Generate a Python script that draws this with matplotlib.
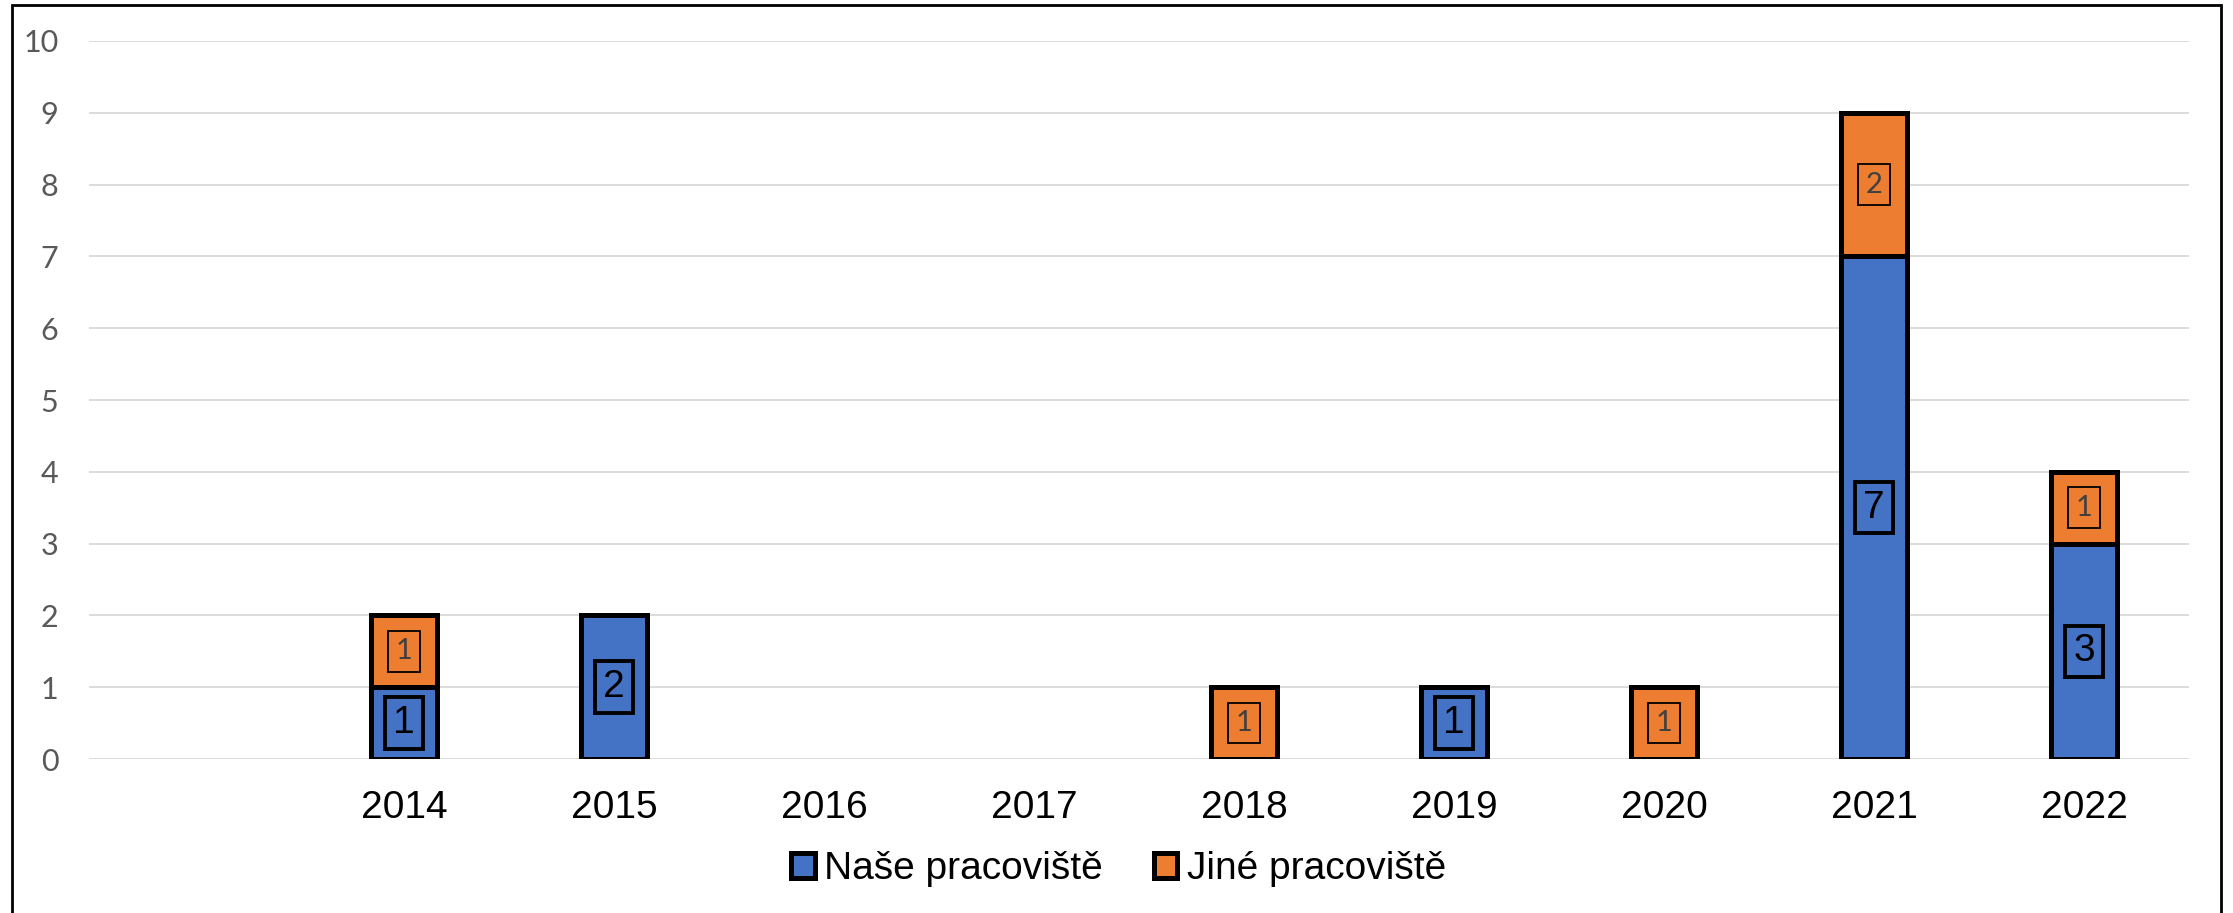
import numpy as np
import matplotlib
matplotlib.use("Agg")
import matplotlib.pyplot as plt
from matplotlib.patches import Rectangle

# first category is an empty slot, as in the original spreadsheet
years = ["", "2014", "2015", "2016", "2017", "2018", "2019", "2020", "2021", "2022"]
nase = [0, 1, 2, 0, 0, 0, 1, 0, 7, 3]
jine = [0, 1, 0, 0, 0, 1, 0, 1, 2, 1]
series_names = ["Naše pracoviště", "Jiné pracoviště"]
y_ticks = [0, 1, 2, 3, 4, 5, 6, 7, 8, 9, 10]

blue = "#4472C4"
orange = "#ED7D31"

fig = plt.figure(figsize=(22.33, 9.13), dpi=100)
ax = fig.add_axes([89 / 2233, 1 - 759 / 913, 2100 / 2233, 718 / 913])

x = np.arange(len(years))
nase = np.array(nase, dtype=float)
jine = np.array(jine, dtype=float)

# skip zero-height segments
h1 = np.where(nase > 0, nase, np.nan)
h2 = np.where(jine > 0, jine, np.nan)

w = 0.31
b1 = ax.bar(x, h1, w, color=blue, edgecolor="black", linewidth=3.6, label=series_names[0], zorder=3)
b2 = ax.bar(x, h2, w, bottom=nase, color=orange, edgecolor="black", linewidth=3.6, label=series_names[1], zorder=3)

# data labels in boxes
for i in range(len(x)):
    if nase[i] > 0:
        ax.text(x[i], nase[i] / 2, str(int(nase[i])), ha="center", va="center",
                fontsize=28, family="Liberation Sans", color="black", zorder=5,
                bbox=dict(boxstyle="square,pad=0.2", facecolor=blue, edgecolor="black", linewidth=2.8))
    if jine[i] > 0:
        ax.text(x[i], nase[i] + jine[i] / 2, str(int(jine[i])), ha="center", va="center",
                fontsize=21, family="Lato", color="#404040", zorder=5,
                bbox=dict(boxstyle="square,pad=0.25", facecolor=orange, edgecolor="black", linewidth=1.3))

ax.set_xlim(-0.5, len(years) - 0.5)
ax.set_ylim(0, 10)
ax.set_xticks(x)
ax.set_xticklabels(years, fontsize=28, family="Liberation Sans", color="black")
ax.set_yticks(y_ticks)
ax.set_yticklabels([str(t) for t in y_ticks], fontsize=22, family="Lato", color="#595959")
ax.tick_params(axis="both", length=0)
ax.tick_params(axis="x", pad=22)
ax.tick_params(axis="y", pad=22)
ax.yaxis.grid(True, color="#d9d9d9", linewidth=1.3, zorder=0)
ax.set_axisbelow(True)
for s in ax.spines.values():
    s.set_visible(False)

leg = fig.legend(handles=[b1, b2], loc="center", bbox_to_anchor=(0.501, 1 - 869 / 913), ncol=2,
                 frameon=False, prop={"family": "Liberation Sans", "size": 28},
                 handlelength=0.6, handleheight=0.6, handletextpad=0.25, columnspacing=1.3)

# outer chart border
fig.patches.append(Rectangle((12 / 2233, -0.01), (2221 - 12) / 2233, 1.01 - 5 / 913,
                             transform=fig.transFigure, fill=False, edgecolor="black", linewidth=2))

fig.savefig("out.png", dpi=100)
